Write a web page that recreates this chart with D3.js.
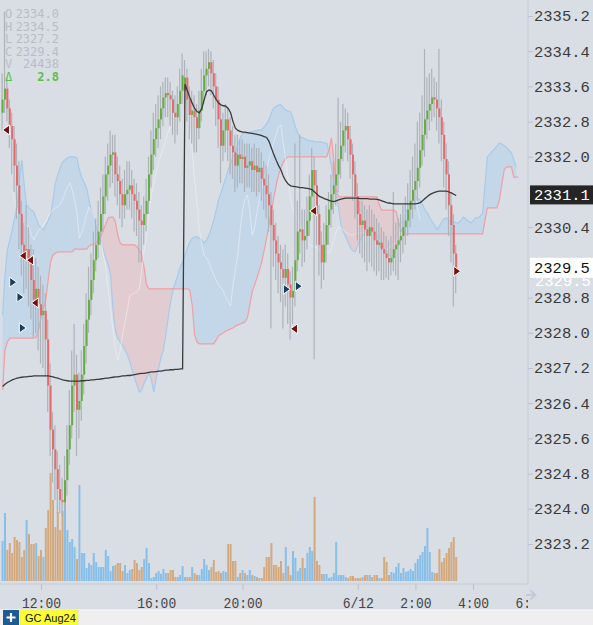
<!DOCTYPE html>
<html>
<head>
<meta charset="utf-8">
<script src="https://cdn.jsdelivr.net/npm/d3@7"></script>
<style>
  body { margin: 0; background: #d9dee5; }
  svg { display: block; }
</style>
</head>
<body>
<script>
// 5 minute bars, GC Aug24. bar 0 = 10:40, session break after bar 75 (17:00 - 18:00)
var firstOpen = 2333.0;
var sessionStart = 76;
var sessionOpen = 2333.5;

var closes = [
  2333.3, 2333.55, 2333.1, 2332.7, 2332.4, 2331.8, 2331.35, 2330.7, 2330.0, 2329.7,
  2329.9, 2329.6, 2329.2, 2328.75, 2329.0, 2328.65, 2328.4, 2328.5, 2327.85, 2326.8,
  2325.8, 2325.35, 2324.9, 2324.45, 2324.2, 2324.15, 2324.65, 2325.35, 2325.9, 2326.8,
  2327.05, 2326.25, 2326.45, 2327.05, 2327.7, 2328.3, 2328.75, 2329.2, 2329.65, 2330.0,
  2330.3, 2330.7, 2331.1, 2331.6, 2331.8, 2332.05, 2332.1, 2331.6, 2331.45, 2331.15,
  2330.9, 2331.15, 2331.25, 2331.35, 2331.15, 2331.0, 2330.8, 2330.55, 2330.45, 2330.7,
  2331.0, 2331.6, 2332.05, 2332.4, 2332.65, 2332.85, 2333.1, 2333.35, 2333.45, 2333.4,
  2333.3, 2333.0, 2332.9, 2333.2, 2333.5, 2333.85, 2333.8, 2333.3, 2332.95, 2333.05,
  2332.9, 2332.65, 2333.05, 2333.5, 2333.85, 2334.0, 2334.15, 2333.9, 2333.6, 2333.3,
  2332.85, 2332.25, 2332.6, 2332.85, 2332.6, 2332.25, 2332.1, 2331.8, 2332.05, 2331.95,
  2332.0, 2331.75, 2331.8, 2331.9, 2331.7, 2331.8, 2331.65, 2331.75, 2331.5, 2331.35,
  2331.15, 2330.9, 2330.45, 2330.1, 2329.8, 2329.6, 2329.45, 2329.25, 2329.45, 2329.1,
  2328.8, 2328.95, 2329.65, 2330.3, 2330.35, 2330.1, 2330.2, 2330.55, 2331.1, 2331.7,
  2331.35, 2330.7, 2330.0, 2329.6, 2330.0, 2330.45, 2330.8, 2331.15, 2331.35, 2331.6,
  2331.95, 2332.25, 2332.6, 2332.7, 2332.4, 2332.05, 2331.6, 2331.1, 2330.7, 2330.45,
  2330.55, 2330.35, 2330.2, 2330.4, 2330.3, 2330.1, 2330.0, 2330.05, 2329.9, 2329.8,
  2329.7, 2329.6, 2329.7, 2329.9, 2330.0, 2330.1, 2330.2, 2330.4, 2330.55, 2330.8,
  2331.0, 2331.25, 2331.45, 2331.75, 2332.15, 2332.5, 2332.85, 2333.05, 2333.2, 2333.35,
  2333.3, 2333.1, 2332.9, 2332.5, 2331.95, 2331.6, 2330.9, 2330.45, 2329.8, 2329.4
];

var highs = [
  2333.9, 2335.3, 2333.8, 2333.3, 2333.0, 2332.7, 2332.3, 2331.9, 2331.0, 2330.5,
  2330.9, 2330.4, 2330.0, 2329.9, 2329.7, 2329.5, 2329.3, 2329.1, 2328.9, 2328.3,
  2327.3, 2326.2, 2325.9, 2325.3, 2325.0, 2324.7, 2325.2, 2325.9, 2326.7, 2327.6,
  2328.2, 2327.5, 2327.1, 2327.6, 2328.2, 2328.9, 2329.5, 2329.8, 2330.3, 2330.6,
  2331.0, 2331.3, 2331.6, 2332.0, 2332.3, 2332.6, 2332.5, 2332.5, 2332.0, 2331.8,
  2331.5, 2331.7, 2331.9, 2331.9, 2331.7, 2331.5, 2331.4, 2331.2, 2330.9, 2331.1,
  2331.5, 2332.0, 2332.6, 2333.0, 2333.2, 2333.4, 2333.6, 2333.7, 2333.8, 2333.8,
  2333.7, 2333.5, 2333.4, 2333.6, 2334.0, 2334.35, 2334.2, 2334.0, 2333.6, 2333.5,
  2333.4, 2333.2, 2333.5, 2334.0, 2334.4, 2334.4, 2334.45, 2334.4, 2334.2, 2333.9,
  2333.6, 2333.2, 2333.0, 2333.2, 2333.1, 2332.9, 2332.7, 2332.5, 2332.5, 2332.4,
  2332.4, 2332.3, 2332.3, 2332.3, 2332.2, 2332.3, 2332.2, 2332.2, 2332.1, 2331.9,
  2331.8, 2331.6, 2331.2, 2330.8, 2330.5, 2330.2, 2330.0, 2329.9, 2330.0, 2329.8,
  2329.4, 2329.5, 2332.3, 2331.0, 2332.5, 2330.8, 2330.8, 2331.1, 2331.6, 2332.2,
  2332.0, 2331.7, 2330.9, 2330.3, 2330.5, 2330.9, 2331.2, 2331.6, 2331.9, 2332.3,
  2333.35, 2332.8, 2333.2, 2333.1, 2333.0, 2332.7, 2332.3, 2331.9, 2331.4, 2331.0,
  2331.0, 2330.9, 2330.8, 2330.9, 2330.8, 2330.7, 2330.6, 2330.5, 2330.4, 2330.3,
  2330.2, 2330.1, 2330.2, 2331.2, 2330.5, 2330.6, 2330.7, 2330.9, 2331.1, 2331.4,
  2331.7, 2332.0, 2332.3, 2332.8, 2333.0, 2333.4, 2334.45, 2333.8, 2333.9, 2334.0,
  2333.8, 2333.7, 2334.45, 2333.3, 2332.8, 2332.3, 2331.9, 2331.2, 2330.7, 2330.0
];

var lows = [
  2332.6, 2333.0, 2332.8, 2332.2, 2331.6, 2331.2, 2330.6, 2329.9, 2329.3, 2328.9,
  2329.0, 2328.6, 2328.3, 2327.9, 2328.0, 2327.6, 2327.3, 2327.2, 2327.0, 2326.2,
  2325.2, 2324.6, 2324.2, 2323.9, 2323.9, 2323.85, 2324.0, 2324.3, 2325.0, 2325.6,
  2326.2, 2325.2, 2325.6, 2326.0, 2326.6, 2327.3, 2328.0, 2328.4, 2328.9, 2329.4,
  2329.7, 2330.0, 2330.3, 2330.7, 2331.0, 2331.3, 2331.4, 2331.1, 2330.9, 2330.6,
  2330.4, 2330.6, 2330.8, 2330.8, 2330.6, 2330.3, 2330.2, 2329.6, 2329.6, 2330.0,
  2330.3, 2330.7, 2331.3, 2331.7, 2332.0, 2332.2, 2332.4, 2332.7, 2332.9, 2332.9,
  2332.7, 2332.5, 2332.3, 2332.5, 2332.8, 2333.2, 2333.1, 2332.8, 2332.4, 2332.3,
  2332.1, 2332.1, 2332.4, 2332.8, 2333.2, 2333.4, 2333.6, 2333.4, 2333.1, 2332.7,
  2332.2, 2331.4, 2331.9, 2332.1, 2331.9, 2331.6, 2331.5, 2331.2, 2331.3, 2331.4,
  2331.4, 2331.2, 2331.3, 2331.3, 2331.2, 2331.2, 2331.1, 2331.2, 2331.0, 2330.8,
  2330.6, 2330.3, 2328.1, 2329.5, 2329.2, 2328.9, 2328.7, 2328.1, 2328.6, 2328.2,
  2327.85, 2328.2, 2328.6, 2329.4, 2329.8, 2329.5, 2329.6, 2329.9, 2330.2, 2330.8,
  2327.4, 2330.0, 2329.3, 2329.0, 2329.2, 2329.6, 2330.0, 2330.4, 2330.7, 2330.9,
  2331.2, 2331.5, 2331.9, 2332.1, 2331.9, 2331.5, 2331.0, 2330.6, 2330.1, 2329.8,
  2329.7, 2329.6, 2329.4, 2329.6, 2329.5, 2329.4, 2329.3, 2329.4, 2329.2, 2329.2,
  2329.25, 2329.2, 2329.3, 2329.4, 2329.3, 2329.2, 2329.6, 2329.8, 2330.0, 2330.2,
  2330.4, 2330.6, 2330.8, 2331.0, 2331.3, 2331.8, 2332.0, 2332.4, 2332.6, 2332.8,
  2332.9, 2332.6, 2332.3, 2331.9, 2331.3, 2330.8, 2330.2, 2329.6, 2328.6, 2328.9
];

var volumes = [
  400, 680, 310, 380, 280, 440, 410, 390, 240, 310,
  610, 470, 370, 370, 380, 250, 310, 240, 530, 710,
  1080, 810, 540, 690, 510, 700, 810, 510, 390, 420,
  340, 220, 960, 280, 280, 130, 180, 160, 280, 190,
  140, 140, 140, 310, 250, 100, 150, 160, 180, 180,
  100, 160, 80, 110, 120, 210, 180, 110, 140, 220,
  330, 180, 30, 40, 80, 100, 70, 120, 80, 80,
  110, 110, 40, 40, 60, 150, 40, 40, 40, 140,
  80, 60, 60, 120, 220, 160, 110, 140, 210, 90,
  100, 80, 100, 90, 370, 370, 200, 200, 40, 80,
  110, 80, 60, 110, 60, 50, 40, 30, 30, 140,
  240, 240, 380, 160, 160, 140, 200, 80, 340, 150,
  60, 300, 230, 100, 130, 230, 130, 280, 340, 300,
  840, 200, 160, 70, 70, 70, 30, 40, 80, 390,
  60, 60, 60, 40, 30, 50, 50, 30, 30, 30,
  40, 60, 60, 60, 40, 60, 60, 30, 30, 240,
  190, 60, 90, 80, 140, 180, 80, 130, 90, 100,
  120, 100, 180, 220, 260, 290, 350, 530, 290, 90,
  80, 80, 320, 190, 230, 280, 330, 390, 440, 240
];

// session VWAP (resets at 18:00)
var vwap = [
  2326.78, 2326.83, 2326.87, 2326.9, 2326.93, 2326.95, 2326.97, 2326.98, 2326.99, 2327.0,
  2327.0, 2327.01, 2327.01, 2327.02, 2327.02, 2327.02, 2327.02, 2327.02, 2327.02, 2327.02,
  2327.01, 2327.0, 2326.98, 2326.97, 2326.95, 2326.93, 2326.92, 2326.91, 2326.9, 2326.9,
  2326.9, 2326.9, 2326.9, 2326.91, 2326.91, 2326.92, 2326.92, 2326.93, 2326.93, 2326.94,
  2326.94, 2326.95, 2326.96, 2326.97, 2326.97, 2326.98, 2326.99, 2327.0, 2327.0, 2327.01,
  2327.02, 2327.02, 2327.03, 2327.03, 2327.04, 2327.05, 2327.06, 2327.07, 2327.08, 2327.08,
  2327.09, 2327.1, 2327.11, 2327.11, 2327.12, 2327.13, 2327.13, 2327.14, 2327.15, 2327.15,
  2327.16, 2327.16, 2327.17, 2327.17, 2327.18, 2327.18, 2333.65, 2333.5, 2333.35, 2333.22,
  2333.1, 2333.03, 2333.0, 2333.1, 2333.3, 2333.48, 2333.52, 2333.5, 2333.4, 2333.3,
  2333.22, 2333.18, 2333.16, 2333.15, 2333.1, 2333.0, 2332.8, 2332.65, 2332.6, 2332.58,
  2332.56, 2332.56, 2332.55, 2332.54, 2332.53, 2332.52, 2332.51, 2332.5, 2332.48, 2332.46,
  2332.44, 2332.35, 2332.2, 2332.05, 2331.92, 2331.8, 2331.7, 2331.55, 2331.45, 2331.38,
  2331.34, 2331.33, 2331.32, 2331.31, 2331.3, 2331.3, 2331.29, 2331.28, 2331.27, 2331.25,
  2331.2, 2331.15, 2331.1, 2331.08, 2331.05, 2331.03, 2331.01, 2330.99, 2330.98, 2331.0,
  2331.02, 2331.04, 2331.05, 2331.06, 2331.06, 2331.06, 2331.06, 2331.06, 2331.06, 2331.05,
  2331.05, 2331.05, 2331.05, 2331.04, 2331.04, 2331.04, 2331.03, 2331.02, 2331.0, 2330.98,
  2330.96, 2330.95, 2330.94, 2330.93, 2330.93, 2330.93, 2330.93, 2330.93, 2330.93, 2330.93,
  2330.93, 2330.93, 2330.93, 2330.94, 2330.96, 2331.0, 2331.05, 2331.1, 2331.14, 2331.17,
  2331.19, 2331.21, 2331.22, 2331.22, 2331.22, 2331.22, 2331.2, 2331.18, 2331.15, 2331.12
];

// Ichimoku cloud, shifted 26 bars ahead
var spanA = [
  2328.4, 2329.31, 2329.88, 2330.11, 2330.34, 2330.61, 2330.86, 2331.47, 2331.93, 2331.36,
  2330.91, 2330.84, 2330.79, 2330.75, 2330.61, 2330.45, 2330.38, 2330.34, 2330.45, 2330.56,
  2330.68, 2331.02, 2331.41, 2331.59, 2331.75, 2331.88, 2331.93, 2331.97, 2332.0, 2332.0,
  2332.0, 2331.97, 2331.7, 2331.52, 2331.41, 2331.29, 2331.02, 2330.75, 2330.61, 2330.45,
  2330.22, 2330.11, 2329.88, 2329.7, 2329.54, 2329.31, 2328.52, 2328.06, 2327.88, 2327.79,
  2327.72, 2327.61, 2327.5, 2327.34, 2327.15, 2326.97, 2326.81, 2326.65, 2326.7, 2326.86,
  2326.97, 2327.09, 2326.93, 2326.65, 2326.97, 2327.2, 2327.43, 2327.61, 2327.95, 2328.34,
  2328.7, 2328.97, 2329.15, 2329.31, 2329.5, 2329.61, 2329.77, 2329.93, 2330.06, 2330.15,
  2330.18, 2330.18, 2330.15, 2330.11, 2330.04, 2330.11, 2330.22, 2330.38, 2330.56, 2330.79,
  2331.02, 2331.18, 2331.36, 2331.52, 2331.7, 2331.86, 2332.0, 2332.11, 2332.27, 2332.43,
  2332.52, 2332.54, 2332.54, 2332.56, 2332.56, 2332.59, 2332.59, 2332.61, 2332.61, 2332.68,
  2332.75, 2332.84, 2333.0, 2333.11, 2333.15, 2333.18, 2333.18, 2333.11, 2333.06, 2333.04,
  2333.02, 2332.88, 2332.68, 2332.54, 2332.45, 2332.43, 2332.41, 2332.38, 2332.36, 2332.36,
  2332.34, 2332.34, 2332.34, 2332.34, 2332.31, 2332.31, 2332.11, 2331.75, 2331.47, 2331.13,
  2330.84, 2330.45, 2330.29, 2330.18, 2330.06, 2329.93, 2329.86, 2329.84, 2330.0, 2330.11,
  2330.2, 2330.27, 2330.27, 2330.27, 2330.27, 2330.27, 2330.22, 2330.0, 2329.88, 2329.84,
  2329.81, 2329.77, 2329.72, 2329.77, 2329.88, 2330.0, 2330.38, 2330.63, 2330.75, 2330.88,
  2330.95, 2331.04, 2331.09, 2331.06, 2331.02, 2330.91, 2330.79, 2330.72, 2330.61, 2330.52,
  2330.45, 2330.34, 2330.43, 2330.52, 2330.59, 2330.61, 2330.56, 2330.52, 2330.52, 2330.5,
  2330.5, 2330.56, 2330.63, 2330.59, 2330.54, 2330.5, 2330.54, 2330.61, 2330.61, 2330.65,
  2330.72, 2331.36, 2332.0, 2332.06, 2332.13, 2332.18, 2332.25, 2332.31, 2332.29, 2332.25,
  2332.22, 2332.15, 2332.09, 2331.93, 2331.77, null
];

var spanB = [
  2326.7, 2327.61, 2327.79, 2327.88, 2327.88, 2327.88, 2327.88, 2327.88, 2327.88, 2327.88,
  2327.88, 2327.88, 2327.88, 2327.88, 2327.9, 2328.06, 2328.34, 2328.56, 2328.75, 2329.2,
  2329.61, 2329.77, 2329.81, 2329.84, 2329.84, 2329.84, 2329.84, 2329.84, 2329.84, 2329.84,
  2329.9, 2329.9, 2329.9, 2329.9, 2329.9, 2329.9, 2329.97, 2330.0, 2330.02, 2330.04,
  2330.11, 2330.2, 2330.34, 2330.47, 2330.61, 2330.63, 2330.63, 2330.52, 2330.22, 2330.04,
  2330.0, 2330.0, 2330.0, 2330.0, 2330.0, 2330.0, 2329.95, 2329.88, 2329.77, 2329.47,
  2329.09, 2329.0, 2329.0, 2329.0, 2329.0, 2329.0, 2329.0, 2329.0, 2329.0, 2329.0,
  2329.0, 2329.0, 2329.0, 2329.0, 2329.0, 2329.0, 2329.0, 2329.0, 2328.97, 2328.63,
  2327.95, 2327.79, 2327.75, 2327.75, 2327.75, 2327.75, 2327.75, 2327.75, 2327.75, 2327.84,
  2327.93, 2327.97, 2328.0, 2328.04, 2328.06, 2328.09, 2328.11, 2328.15, 2328.18, 2328.2,
  2328.22, 2328.25, 2328.34, 2328.63, 2328.93, 2329.09, 2329.25, 2329.43, 2329.61, 2329.88,
  2330.15, 2330.45, 2330.79, 2331.06, 2331.36, 2331.59, 2331.75, 2331.88, 2331.97, 2332.0,
  2332.0, 2332.0, 2332.0, 2332.0, 2332.0, 2332.0, 2332.0, 2332.0, 2332.0, 2332.0,
  2332.0, 2332.0, 2332.0, 2332.0, 2332.0, 2332.0, 2332.15, 2332.43, 2331.93, 2331.25,
  2331.09, 2331.09, 2331.09, 2331.09, 2331.09, 2331.09, 2331.09, 2331.09, 2331.09, 2331.09,
  2331.09, 2331.09, 2331.09, 2331.09, 2331.09, 2331.09, 2331.09, 2330.9, 2330.79, 2330.79,
  2330.79, 2330.79, 2330.79, 2330.79, 2330.75, 2330.52, 2330.34, 2330.25, 2330.25, 2330.25,
  2330.25, 2330.25, 2330.25, 2330.25, 2330.25, 2330.25, 2330.25, 2330.25, 2330.25, 2330.25,
  2330.25, 2330.25, 2330.25, 2330.25, 2330.25, 2330.25, 2330.25, 2330.25, 2330.25, 2330.25,
  2330.25, 2330.25, 2330.25, 2330.25, 2330.25, 2330.25, 2330.25, 2330.25, 2330.25, 2330.25,
  2330.25, 2330.56, 2330.84, 2330.84, 2330.84, 2330.84, 2330.84, 2331.02, 2331.36, 2331.7,
  2331.77, 2331.77, 2331.77, 2331.54, 2331.54, 2331.54
];

// thin white line running through the cloud
var whiteLine = [
  null, null, null, null, 2331.25, 2331.02, 2330.75, 2330.56, 2330.52, 2330.45,
  2330.43, 2330.41, 2330.22, 2330.11, 2330.22, 2330.34, 2330.36, 2330.45, 2330.52, 2330.65,
  2330.75, 2330.79, 2330.84, 2330.86, 2330.93, 2331.02, 2331.18, 2331.31, 2331.41, 2331.25,
  2331.02, 2330.72, 2330.15, 2330.29, 2330.47, 2330.68, 2330.86, 2330.75, 2330.61, 2330.52,
  2330.34, 2330.11, 2329.77, 2329.43, 2328.97, 2328.52, 2328.06, 2327.61, 2327.38, 2327.61,
  2327.95, 2328.25, 2328.52, 2328.84, 2328.88, 2328.9, 2328.93, 2329.02, 2329.43, 2329.88,
  2330.22, 2330.75, 2331.13, 2331.43, 2331.65, 2331.88, 2332.04, 2332.2, 2332.38, 2332.56,
  2332.72, 2332.88, 2333.02, 2333.11, 2333.2, 2333.25, 2333.2, 2333.06, 2332.61, 2332.15,
  2331.47, 2330.91, 2330.34, 2330.0, 2329.77, 2329.7, 2329.61, 2329.43, 2329.31, 2329.2,
  2329.09, 2329.02, 2328.95, 2328.79, 2328.7, 2328.61, 2329.09, 2329.43, 2329.77, 2330.34,
  2330.79, 2331.06, 2331.13, 2330.79, 2330.22, 2330.38, 2330.75, 2331.02, 2331.29, 2331.52,
  2331.75, 2331.93, 2332.15, 2332.34, 2332.5, 2332.68, 2332.72, 2332.27, 2331.93, 2331.47,
  2331.02, 2330.79, 2330.68, 2330.56, 2330.45, 2330.29, 2330.15, 2330.06, 2330.0, 2329.97,
  2329.95, 2329.93, 2329.88, 2329.88, 2329.86, 2329.84, 2329.81, 2329.93, 2330.11, 2330.29,
  2330.41, 2330.38, 2330.34, 2330.29, 2330.25, 2330.22, 2330.22, 2330.25, 2330.27, 2330.27,
  2330.27, 2330.27, 2330.27, 2330.27, 2330.27, 2330.2, 2330.06, 2329.93, 2329.88, 2329.88,
  2329.9, 2329.93, 2329.97, 2330.02, 2330.09, 2330.15, 2330.38, 2330.61, 2330.79, 2330.93,
  2331.02, 2331.09, 2331.09, 2330.79, 2330.56
];

// trade markers
var markerIdx   = [1, 8, 11, 13, 4, 7, 8, 129, 118, 123, 121, 189];
var markerPrice = [2332.61, 2329.75, 2329.65, 2328.68, 2329.15, 2328.81, 2328.11, 2330.77, 2328.99, 2329.06, 2328.09, 2329.4];
var markerType  = ["sell", "sell", "sell", "sell", "buy", "buy", "buy", "sell", "buy", "buy", "sell", "exit"];

// axes
var yTicks = [2335.2, 2334.4, 2333.6, 2332.8, 2332.0, 2330.4, 2328.8, 2328.0, 2327.2, 2326.4, 2325.6, 2324.8, 2324.0, 2323.2];
var xTickIdx = [16, 64, 100, 148, 172, 196, 220];
var xTickLabels = ["12:00", "16:00", "20:00", "6/12", "2:00", "4:00", "6:00"];
var lastPrice = 2331.1;
var markPrice = 2329.5;

// legend
var legendKeys = ["O", "H", "L", "C", "V"];
var legendVals = ["2334.0", "2334.5", "2327.2", "2329.4", "24438"];
var legendDelta = "2.8";

var W = 593, H = 625;
var svg = d3.select("body").append("svg")
  .attr("width", W)
  .attr("height", H);

svg.append("rect").attr("width", W).attr("height", H).attr("fill", "#d9dee5");

var x = d3.scaleLinear().domain([0, 200]).range([2.6, 482.6]);
var y = d3.scaleLinear().domain([2323.2, 2335.2]).range([544, 16]);
var yv = d3.scaleLinear().domain([0, 1000]).range([581, 481]);

var defs = svg.append("defs");
defs.append("clipPath").attr("id", "plot")
  .append("rect").attr("x", 0).attr("y", 0).attr("width", 528).attr("height", 584);
defs.append("clipPath").attr("id", "xclip")
  .append("rect").attr("x", 0).attr("y", -5).attr("width", 528).attr("height", 40);

var plot = svg.append("g").attr("clip-path", "url(#plot)");

// build bars
var bars = closes.map(function(c, i) {
  var o = i === 0 ? firstOpen : (i === sessionStart ? sessionOpen : closes[i - 1]);
  return {i: i, o: o, h: highs[i], l: lows[i], c: c, v: volumes[i]};
});

// cloud
var cloud = spanB.map(function(b, i) { return {i: i, a: spanA[i], b: b}; });
var cloudA = cloud.filter(function(d) { return d.a != null; });

plot.append("path").datum(cloudA)
  .attr("fill", "rgba(165,205,238,0.42)")
  .attr("d", d3.area()
    .x(function(d) { return x(d.i); })
    .y0(function(d) { return y(d.a); })
    .y1(function(d) { return y(Math.min(d.a, d.b)); }));

plot.append("path").datum(cloudA)
  .attr("fill", "rgba(240,175,180,0.38)")
  .attr("d", d3.area()
    .x(function(d) { return x(d.i); })
    .y0(function(d) { return y(d.b); })
    .y1(function(d) { return y(Math.min(d.a, d.b)); }));

plot.append("path").datum(cloudA)
  .attr("fill", "none").attr("stroke", "#a6cbea").attr("stroke-width", 1.2)
  .attr("d", d3.line().x(function(d) { return x(d.i); }).y(function(d) { return y(d.a); }));

plot.append("path").datum(cloud)
  .attr("fill", "none").attr("stroke", "#f09fa3").attr("stroke-width", 1.2)
  .attr("d", d3.line().x(function(d) { return x(d.i); }).y(function(d) { return y(d.b); }));

// white line
plot.append("path").datum(whiteLine.map(function(v, i) { return {i: i, v: v}; }))
  .attr("fill", "none").attr("stroke", "#eef2f7").attr("stroke-width", 1).attr("opacity", 0.6)
  .attr("d", d3.line().defined(function(d) { return d.v != null; })
    .x(function(d) { return x(d.i); }).y(function(d) { return y(d.v); }));

// volume
plot.selectAll("rect.vol")
  .data(bars)
  .enter()
  .append("rect")
  .attr("class", "vol")
  .attr("x", function(d) { return x(d.i) - 1; })
  .attr("y", function(d) { return yv(d.v); })
  .attr("width", 2)
  .attr("height", function(d) { return yv(0) - yv(d.v); })
  .attr("fill", function(d) { return d.c >= d.o ? "#88bfe8" : "#d3aa80"; });

// wicks
plot.selectAll("line.wick")
  .data(bars)
  .enter()
  .append("line")
  .attr("class", "wick")
  .attr("x1", function(d) { return x(d.i) - 0.5; })
  .attr("x2", function(d) { return x(d.i) - 0.5; })
  .attr("y1", function(d) { return y(d.h); })
  .attr("y2", function(d) { return y(d.l); })
  .attr("stroke", "#adb2b9")
  .attr("stroke-width", 1.2);

// bodies
plot.selectAll("rect.body")
  .data(bars)
  .enter()
  .append("rect")
  .attr("class", "body")
  .attr("x", function(d) { return x(d.i) - 1; })
  .attr("y", function(d) { return y(Math.max(d.o, d.c)); })
  .attr("width", 2)
  .attr("height", function(d) { return Math.max(1, Math.abs(y(d.o) - y(d.c))); })
  .attr("fill", function(d) { return d.c >= d.o ? "#66ad3f" : "#e66a6c"; });

// vwap
plot.append("path").datum(vwap.map(function(v, i) { return {i: i, v: v}; }))
  .attr("fill", "none").attr("stroke", "#3a3a3a").attr("stroke-width", 1.3)
  .attr("d", d3.line().x(function(d) { return x(d.i); }).y(function(d) { return y(d.v); }));

// markers
var markers = markerIdx.map(function(idx, k) {
  return {i: idx, p: markerPrice[k], t: markerType[k]};
});
plot.selectAll("path.marker")
  .data(markers)
  .enter()
  .append("path")
  .attr("class", "marker")
  .attr("d", function(d) {
    var cx = x(d.i) + 1, cy = y(d.p);
    if (d.t === "sell") return "M" + (cx + 3.5) + "," + (cy - 5) + "L" + (cx - 3.5) + "," + cy + "L" + (cx + 3.5) + "," + (cy + 5) + "Z";
    return "M" + (cx - 3.5) + "," + (cy - 5) + "L" + (cx + 3.5) + "," + cy + "L" + (cx - 3.5) + "," + (cy + 5) + "Z";
  })
  .attr("fill", function(d) { return d.t === "buy" ? "#173f5f" : "#7a0f10"; })
  .attr("stroke", "#ffffff")
  .attr("stroke-width", 1);

// axis lines
svg.append("line").attr("x1", 528).attr("x2", 528).attr("y1", 0).attr("y2", 584)
  .attr("stroke", "#c4cbd5");
svg.append("line").attr("x1", 0).attr("x2", 528).attr("y1", 584).attr("y2", 584)
  .attr("stroke", "#c4cbd5");

// right axis
var yAxis = svg.append("g")
  .attr("transform", "translate(528,0)")
  .call(d3.axisRight(y).tickValues(yTicks).tickSize(5).tickPadding(1).tickFormat(d3.format(".1f")));
yAxis.select(".domain").remove();
yAxis.selectAll("line").attr("stroke", "#b9c1cc");
yAxis.selectAll("text")
  .attr("fill", "#3a3a3a")
  .style("font-family", "'Liberation Mono', monospace")
  .style("font-size", "15.5px");

// ghost label partly hidden behind the mark price box
svg.append("text")
  .attr("x", 535).attr("y", y(markPrice) + 14).attr("dy", "0.35em")
  .attr("fill", "#ffffff")
  .style("font-family", "'Liberation Mono', monospace").style("font-size", "15.5px")
  .text(d3.format(".1f")(markPrice));

// price boxes
svg.append("rect").attr("x", 530).attr("y", y(lastPrice) - 11).attr("width", 63).attr("height", 19)
  .attr("fill", "#252525");
svg.append("text")
  .attr("x", 534).attr("y", y(lastPrice) - 1.5).attr("dy", "0.35em")
  .attr("fill", "#ffffff")
  .style("font-family", "'Liberation Mono', monospace").style("font-size", "15.5px")
  .text(d3.format(".1f")(lastPrice));

svg.append("rect").attr("x", 530).attr("y", y(markPrice) - 9).attr("width", 63).attr("height", 20)
  .attr("fill", "#ffffff");
svg.append("text")
  .attr("x", 534).attr("y", y(markPrice) + 1).attr("dy", "0.35em")
  .attr("fill", "#111111")
  .style("font-family", "'Liberation Mono', monospace").style("font-size", "15.5px")
  .text(d3.format(".1f")(markPrice));

// bottom axis
var xAxis = svg.append("g")
  .attr("transform", "translate(0,584)")
  .attr("clip-path", "url(#xclip)")
  .call(d3.axisBottom(x).tickValues(xTickIdx).tickSize(6).tickPadding(7)
    .tickFormat(function(d, k) { return xTickLabels[k]; }));
xAxis.select(".domain").remove();
xAxis.selectAll("line").attr("stroke", "#b9c1cc");
xAxis.selectAll("text")
  .attr("fill", "#444444")
  .style("font-family", "'Liberation Mono', monospace")
  .style("font-size", "15px")
  .attr("textLength", function(d, k) { return xTickLabels[k].length * 7.8; })
  .attr("lengthAdjust", "spacingAndGlyphs");

// scroll arrow
svg.append("path")
  .attr("d", "M526,595H534M530.5,590.5L535.5,595L530.5,599.5")
  .attr("fill", "none").attr("stroke", "#c3cbd6").attr("stroke-width", 2);

// legend
var legend = svg.append("g")
  .style("font-family", "'DejaVu Sans Mono', monospace")
  .style("font-size", "12px");
legendKeys.forEach(function(k, n) {
  legend.append("text").attr("x", 5).attr("y", 18 + n * 12.6).attr("fill", "#b8bdc5").text(k);
  legend.append("text").attr("x", 59).attr("y", 18 + n * 12.6).attr("text-anchor", "end")
    .attr("fill", "#b8bdc5").text(legendVals[n]);
});
legend.append("text").attr("x", 5).attr("y", 81).attr("fill", "#5cbf4a").text("\u0394");
legend.append("text").attr("x", 59).attr("y", 81).attr("text-anchor", "end")
  .attr("fill", "#5cbf4a").style("font-weight", "bold").text(legendDelta);

// bottom tab bar
svg.append("rect").attr("x", 0).attr("y", 609).attr("width", W).attr("height", 16).attr("fill", "#efefef");
svg.append("rect").attr("x", 3).attr("y", 610).attr("width", 16).attr("height", 15).attr("fill", "#1d5a96");
svg.append("path").attr("d", "M11,613V622M6.5,617.5H15.5")
  .attr("stroke", "#ffffff").attr("stroke-width", 2.2);
svg.append("rect").attr("x", 20).attr("y", 610).attr("width", 58).attr("height", 15)
  .attr("fill", "#ffff33").attr("stroke", "#e0e070").attr("stroke-width", 0.5);
svg.append("text").attr("x", 25).attr("y", 621.5)
  .attr("fill", "#111111")
  .style("font-family", "'Liberation Sans', Arial, sans-serif")
  .style("font-size", "11px")
  .text("GC Aug24");
</script>
</body>
</html>
